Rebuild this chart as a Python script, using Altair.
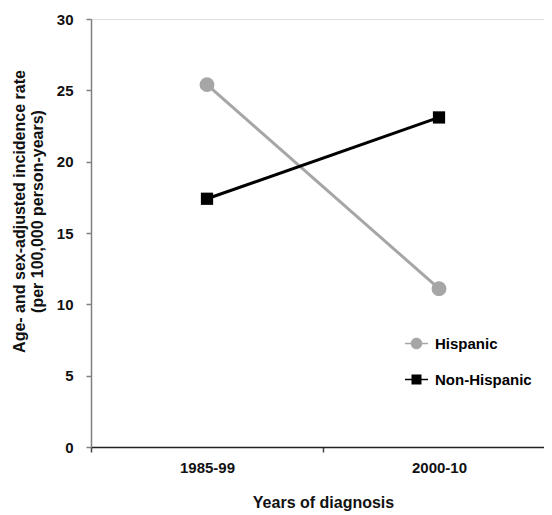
import altair as alt
import pandas as pd

periods = ["1985-99", "2000-10"]
groups = ["Hispanic", "Non-Hispanic"]
hispanic = [25.4, 11.1]
non_hispanic = [17.4, 23.1]
y_ticks = [0, 5, 10, 15, 20, 25, 30]

rows = []
for p, v in zip(periods, hispanic):
    rows.append({"period": p, "group": "Hispanic", "rate": v})
for p, v in zip(periods, non_hispanic):
    rows.append({"period": p, "group": "Non-Hispanic", "rate": v})
df = pd.DataFrame(rows)

FONT = "Liberation Sans"
colors = ["#a6a6a6", "#000000"]

x_enc = alt.X(
    "period:N",
    sort=periods,
    scale=alt.Scale(type="band", paddingInner=0, paddingOuter=0, range=[0, 464]),
    axis=alt.Axis(
        title="Years of diagnosis",
        labelAngle=0,
        tickBand="extent",
        domainColor="#222222",
        domainWidth=1.5,
        tickColor="#444444",
        tickWidth=1.5,
        tickSize=5,
        labelPadding=8,
        labelFont=FONT,
        labelFontSize=15,
        labelFontWeight="bold",
        labelColor="#111111",
        titleFont=FONT,
        titleFontSize=16,
        titleFontWeight="bold",
        titleColor="#111111",
        titlePadding=19,
        grid=False,
    ),
)
y_enc = alt.Y(
    "rate:Q",
    scale=alt.Scale(domain=[0, 30], nice=False, zero=True),
    axis=alt.Axis(
        title=["Age- and sex-adjusted incidence rate", "(per 100,000 person-years)"],
        values=y_ticks,
        domainColor="#808080",
        domainWidth=1.5,
        tickColor="#808080",
        tickWidth=1.5,
        tickSize=5,
        labelPadding=13,
        labelFont=FONT,
        labelFontSize=15,
        labelFontWeight="bold",
        labelColor="#111111",
        titleFont=FONT,
        titleFontSize=16,
        titleFontWeight="bold",
        titleColor="#111111",
        titlePadding=11,
        titleLineHeight=18,
        titleY=192,
        grid=False,
    ),
)

color_scale = alt.Scale(domain=groups, range=colors)

lines = alt.Chart(df).mark_line(strokeWidth=3).encode(
    x=x_enc,
    y=y_enc,
    color=alt.Color("group:N", scale=color_scale, legend=None),
    detail="group:N",
)

points = alt.Chart(df).mark_point(filled=True, opacity=1).encode(
    x=x_enc,
    y=y_enc,
    color=alt.Color("group:N", scale=color_scale, legend=None),
    shape=alt.Shape("group:N", scale=alt.Scale(domain=groups, range=["circle", "square"]), legend=None),
    size=alt.Size("group:N", scale=alt.Scale(domain=groups, range=[220, 150]), legend=None),
)

circle_path = "M-2.3,-0.15H2.3V0.15H-2.3Z M1.15,0A1.15,1.15 0 1 1 -1.15,0A1.15,1.15 0 1 1 1.15,0Z"
square_path = "M-2.3,-0.15H2.3V0.15H-2.3Z M-1,-1H1V1H-1Z"

legend_cfg = alt.Legend(
    title=None,
    orient="none",
    legendX=318,
    legendY=317,
    padding=0,
    symbolSize=100,
    labelOffset=11,
    rowPadding=20,
    labelFont=FONT,
    labelFontSize=15,
    labelFontWeight="bold",
    labelColor="#000000",
    symbolStrokeWidth=0,
)

legend_layer = alt.Chart(df).transform_filter("false").mark_point(filled=True, opacity=1).encode(
    x=x_enc,
    y=y_enc,
    color=alt.Color("group:N", scale=alt.Scale(domain=groups, range=colors), legend=legend_cfg),
    shape=alt.Shape("group:N", scale=alt.Scale(domain=groups, range=[circle_path, square_path]), legend=legend_cfg),
)

chart = (
    alt.layer(lines, points, legend_layer)
    .resolve_scale(shape="independent", size="independent", color="independent")
    .properties(
        width=453,
        height=428,
        padding={"left": 83, "top": 11, "right": 0, "bottom": 66},
        autosize=alt.AutoSizeParams(type="none"),
    )
    .configure_view(stroke=None)
    .configure(background="white")
)

chart.save("out.html", embed_options={"renderer": "svg", "actions": False})
